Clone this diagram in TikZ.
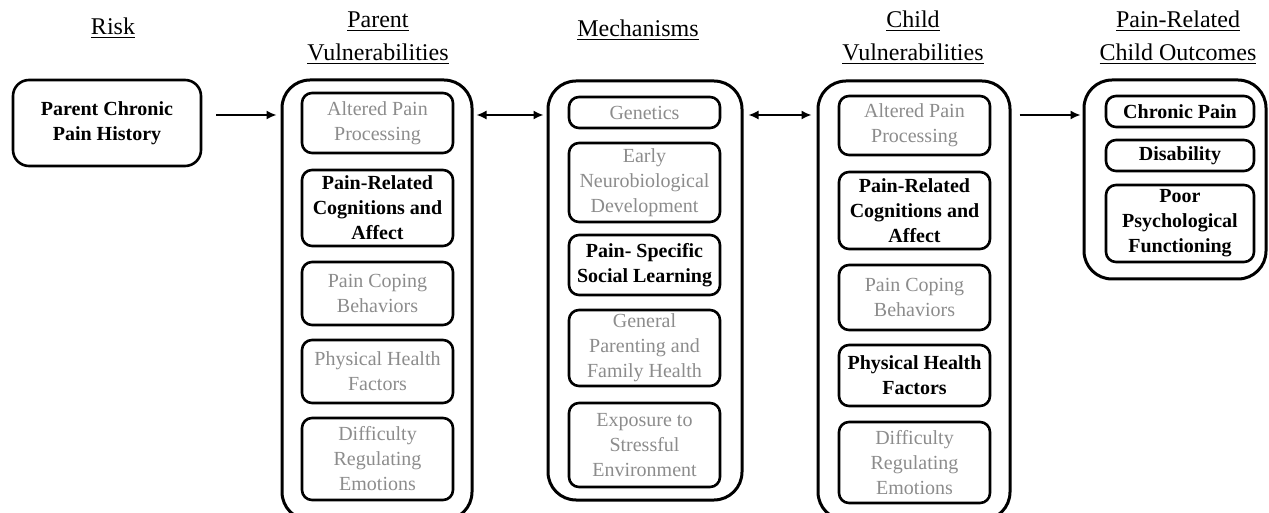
\documentclass[tikz,border=0pt]{standalone}
\usepackage{fontspec}
\setmainfont{Liberation Serif}
\usetikzlibrary{arrows.meta}
\definecolor{fadedgray}{RGB}{140,140,140}

\begin{document}
\begin{tikzpicture}[x=0.5pt,y=-0.5pt,>={Latex[length=5pt,width=4.5pt]},
  groupbox/.style={draw,line width=1.5pt,rounded corners=14pt},
  itembox/.style={draw,line width=1.3pt,rounded corners=5pt,minimum width=75.5pt,inner sep=1pt,align=center,font=\fontsize{10}{12.5}\selectfont},
  faded/.style={itembox,text=fadedgray},
  strong/.style={itembox,font=\fontsize{10}{12.5}\selectfont\bfseries},
  heading/.style={align=center,font=\fontsize{12}{16.5}\selectfont},
  link/.style={line width=0.8pt}]
\useasboundingbox (0,0) rectangle (1269,513);
% column headings
\node[heading] (riskhead) at (113,28) {\underline{Risk}};
\node[heading] (parenthead) at (378,38) {\underline{Parent}\\\underline{Vulnerabilities}};
\node[heading] (mechhead) at (638,30) {\underline{Mechanisms}};
\node[heading] (childhead) at (913,38) {\underline{Child}\\\underline{Vulnerabilities}};
\node[heading] (outcomehead) at (1178,38) {\underline{Pain-Related}\\\underline{Child Outcomes}};
% risk
\node[strong,minimum width=94pt,minimum height=43pt,rounded corners=8pt] (risk) at (107,123) {Parent Chronic\\Pain History};
% parent vulnerabilities
\node[groupbox,minimum width=95pt,minimum height=220pt] (parent) at (377,300) {}; % runs off the bottom
\node[faded,minimum height=30pt] (ppain) at (377.5,123) {Altered Pain\\Processing};
\node[strong,minimum height=38pt] (pcog) at (377.5,208) {Pain-Related\\Cognitions and\\Affect};
\node[faded,minimum height=31.5pt] (pcope) at (377.5,293.5) {Pain Coping\\Behaviors};
\node[faded,minimum height=31.5pt] (phealth) at (377.5,371.5) {Physical Health\\Factors};
\node[faded,minimum height=41pt] (pemotion) at (377.5,459) {Difficulty\\Regulating\\Emotions};
% mechanisms
\node[groupbox,minimum width=97pt,minimum height=209.5pt] (mech) at (645,290.5) {};
\node[faded,minimum height=15.5pt] (genetics) at (644.5,112.5) {Genetics};
\node[faded,minimum height=39.5pt] (neuro) at (644.5,182.5) {Early\\Neurobiological\\Development};
\node[strong,minimum height=30pt] (social) at (644.5,265) {Pain- Specific\\Social Learning};
\node[faded,minimum height=38pt] (family) at (644.5,348) {General\\Parenting and\\Family Health};
\node[faded,minimum height=42pt] (stress) at (644.5,445) {Exposure to\\Stressful\\Environment};
% child vulnerabilities
\node[groupbox,minimum width=96pt,minimum height=219.5pt] (child) at (914,300.5) {}; % runs off the bottom
\node[faded,minimum height=29.5pt] (cpain) at (914.5,125.5) {Altered Pain\\Processing};
\node[strong,minimum height=38.5pt] (ccog) at (914.5,210.5) {Pain-Related\\Cognitions and\\Affect};
\node[faded,minimum height=32.5pt] (ccope) at (914.5,297.5) {Pain Coping\\Behaviors};
\node[strong,minimum height=30.5pt] (chealth) at (914.5,375.5) {Physical Health\\Factors};
\node[faded,minimum height=40.5pt] (cemotion) at (914.5,462.5) {Difficulty\\Regulating\\Emotions};
% child outcomes
\node[groupbox,minimum width=91pt,minimum height=99.5pt] (outcome) at (1175,179.5) {};
\node[strong,minimum width=74pt,minimum height=15.5pt] (chronic) at (1180,111.5) {Chronic Pain};
\node[strong,minimum width=74pt,minimum height=15.5pt] (disability) at (1180,155.5) {Disability};
\node[strong,minimum width=74pt,minimum height=38.5pt] (psych) at (1180,223.5) {Poor\\Psychological\\Functioning};
% arrows between columns
\coordinate (arrowrow) at (0,115);
\draw[->,link,shorten <=7pt,shorten >=2pt] (risk.east |- arrowrow) -- (parent.west |- arrowrow);
\draw[<->,link,shorten <=1.5pt,shorten >=1.5pt] (parent.east |- arrowrow) -- (mech.west |- arrowrow);
\draw[<->,link,shorten <=2.5pt,shorten >=2.5pt] (mech.east |- arrowrow) -- (child.west |- arrowrow);
\draw[->,link,shorten <=4pt,shorten >=1pt] (child.east |- arrowrow) -- (outcome.west |- arrowrow);
\end{tikzpicture}
\end{document}
